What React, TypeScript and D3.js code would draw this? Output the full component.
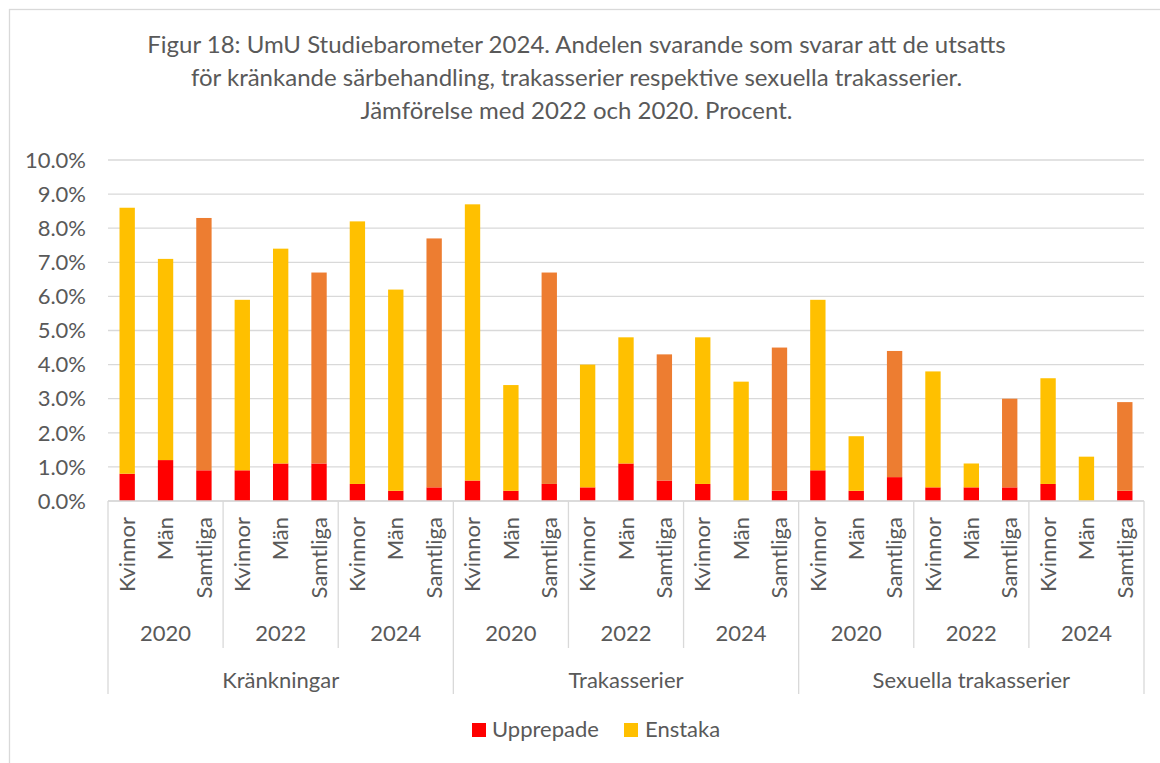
import React from "react";
import * as d3 from "d3";

const categories = ["Kränkningar", "Trakasserier", "Sexuella trakasserier"];
const years = ["2020", "2022", "2024"];
const groups = ["Kvinnor", "Män", "Samtliga"];
const yTicks = [0, 1, 2, 3, 4, 5, 6, 7, 8, 9, 10];
const titleLines = [
  "Figur 18: UmU Studiebarometer 2024. Andelen svarande som svarar att de utsatts",
  "för kränkande särbehandling, trakasserier respektive sexuella trakasserier.",
  "Jämförelse med 2022 och 2020. Procent.",
];
// order: category -> year -> group
const upprepade = [
  0.8, 1.2, 0.9, 0.9, 1.1, 1.1, 0.5, 0.3, 0.4,
  0.6, 0.3, 0.5, 0.4, 1.1, 0.6, 0.5, 0.0, 0.3,
  0.9, 0.3, 0.7, 0.4, 0.4, 0.4, 0.5, 0.0, 0.3,
];
const enstaka = [
  7.8, 5.9, 7.4, 5.0, 6.3, 5.6, 7.7, 5.9, 7.3,
  8.1, 3.1, 6.2, 3.6, 3.7, 3.7, 4.3, 3.5, 4.2,
  5.0, 1.6, 3.7, 3.4, 0.7, 2.6, 3.1, 1.3, 2.6,
];

const RED = "#FF0000";
const YELLOW = "#FFC000";
const ORANGE = "#ED7D31";
const TEXT = "#595959";
const GRID = "#D9D9D9";
const FONT = "Lato, 'Open Sans', sans-serif";

export default function App() {
  const W = 1160, H = 763;
  const left = 108, right = 1144, top = 160, bottom = 501;
  const FS = 22;

  const rows = [];
  categories.forEach((c, ci) =>
    years.forEach((yr, yi) =>
      groups.forEach((g, gi) => {
        const i = ci * 9 + yi * 3 + gi;
        rows.push({ key: `${ci}-${yi}-${gi}`, c, yr, g, gi, u: upprepade[i], e: enstaka[i] });
      })
    )
  );

  const x = d3.scaleBand().domain(rows.map((r) => r.key)).range([left, right]).paddingInner(0.6).paddingOuter(0.3);
  const y = d3.scaleLinear().domain([0, 10]).range([bottom, top]);
  const step = x.step();

  const stackGen = d3.stack().keys(["u", "e"]);
  const stacked = stackGen(rows);

  const yearBounds = [];
  for (let k = 0; k <= 9; k++) yearBounds.push(left + k * 3 * step);

  return (
    <div style={{ position: "absolute", left: 0, top: 0 }}>
      <svg width={W} height={H} style={{ display: "block", background: "#fff" }} fontFamily={FONT}>
        <rect x={0} y={0} width={W} height={H} fill="#fff" />
        <rect x={9.5} y={9.5} width={1300} height={900} fill="none" stroke={GRID} strokeWidth={1.3} />
        {titleLines.map((t, i) => (
          <text key={i} x={576.5} y={53 + i * 33} textAnchor="middle" fontSize={24} fill={TEXT}>
            {t}
          </text>
        ))}
        {yTicks.map((t) => (
          <g key={t}>
            <line x1={left} x2={right} y1={y(t)} y2={y(t)} stroke={GRID} strokeWidth={1.3} />
            <text x={86} y={y(t)} dy="0.35em" textAnchor="end" fontSize={FS} fill={TEXT}>
              {d3.format(".1f")(t) + "%"}
            </text>
          </g>
        ))}
        {stacked.map((layer) => (
          <g key={layer.key}>
            {layer.map((d, i) => {
              const r = rows[i];
              const fill = layer.key === "u" ? RED : r.g === "Samtliga" ? ORANGE : YELLOW;
              return (
                <rect
                  key={r.key}
                  x={x(r.key)}
                  width={x.bandwidth()}
                  y={y(d[1])}
                  height={Math.max(0, y(d[0]) - y(d[1]))}
                  fill={fill}
                />
              );
            })}
          </g>
        ))}
        <line x1={left} x2={right} y1={bottom} y2={bottom} stroke={GRID} strokeWidth={1.3} />
        {yearBounds.map((bx, k) => (
          <line
            key={k}
            x1={bx}
            x2={bx}
            y1={bottom}
            y2={k % 3 === 0 ? 694 : 648}
            stroke={GRID}
            strokeWidth={1.3}
          />
        ))}
        {rows.map((r) => (
          <text
            key={r.key}
            transform={`translate(${x(r.key) + x.bandwidth() / 2},517) rotate(-90)`}
            dy="0.35em"
            textAnchor="end"
            fontSize={FS}
            fill={TEXT}
          >
            {r.g}
          </text>
        ))}
        {categories.map((c, ci) =>
          years.map((yr, yi) => (
            <text
              key={`${ci}-${yi}`}
              x={left + (ci * 9 + yi * 3 + 1.5) * step}
              y={633}
              dy="0.35em"
              textAnchor="middle"
              fontSize={FS}
              fill={TEXT}
            >
              {yr}
            </text>
          ))
        )}
        {categories.map((c, ci) => (
          <text key={c} x={left + (ci * 9 + 4.5) * step} y={680} dy="0.35em" textAnchor="middle" fontSize={FS} fill={TEXT}>
            {c}
          </text>
        ))}
        <rect x={472} y={723} width={14} height={14} fill={RED} />
        <text x={492} y={737} fontSize={FS} fill={TEXT}>Upprepade</text>
        <rect x={624} y={723} width={14} height={14} fill={YELLOW} />
        <text x={645} y={737} fontSize={FS} fill={TEXT}>Enstaka</text>
      </svg>
    </div>
  );
}
